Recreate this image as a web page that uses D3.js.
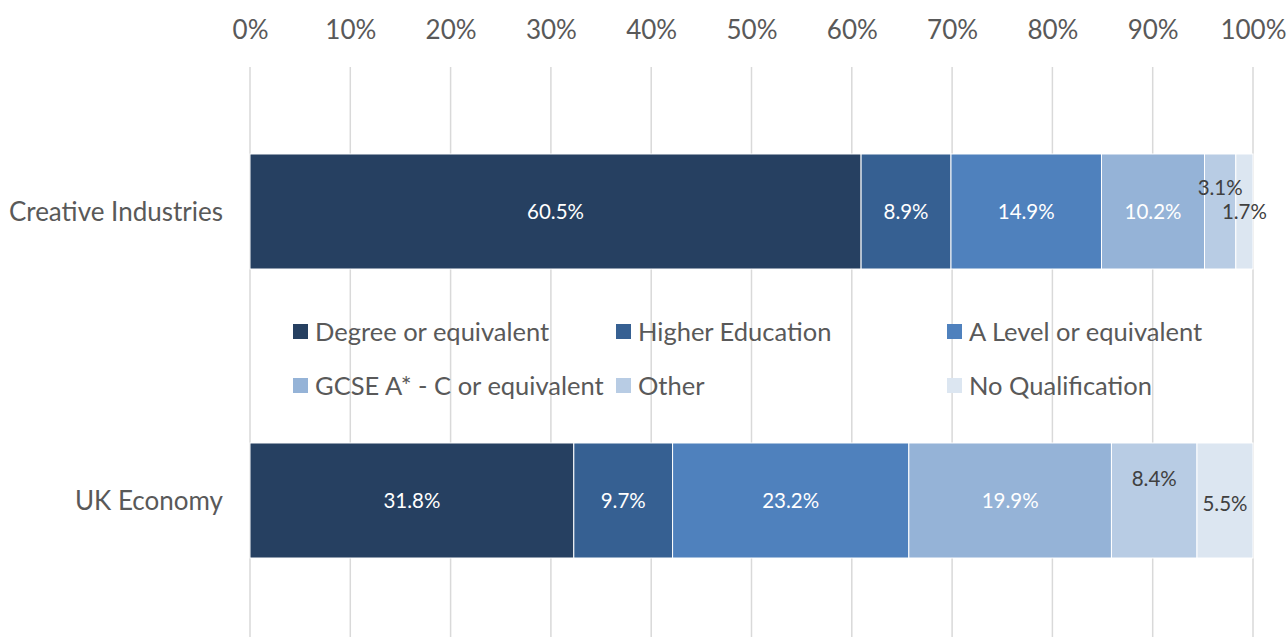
<!DOCTYPE html>
<html>
<head>
<meta charset="utf-8">
<script src="https://cdn.jsdelivr.net/npm/d3@7"></script>
<style>
  body { margin: 0; background: #fff; }
  svg { display: block; font-family: Lato, "Open Sans", sans-serif; }
</style>
</head>
<body>
<svg id="chart" width="1287" height="637"></svg>
<script>
// data
const categories = ["Creative Industries", "UK Economy"];
const seriesNames = ["Degree or equivalent", "Higher Education", "A Level or equivalent",
  "GCSE A* - C or equivalent", "Other", "No Qualification"];
const creativeValues = [60.5, 8.9, 14.9, 10.2, 3.1, 1.7];
const ukValues = [31.8, 9.7, 23.2, 19.9, 8.4, 5.5];
const tickValues = [0, 0.1, 0.2, 0.3, 0.4, 0.5, 0.6, 0.7, 0.8, 0.9, 1];

const colors = ["#264061", "#366092", "#4f81bd", "#95b3d7", "#b8cce4", "#dce6f1"];
const labelColors = ["#fff", "#fff", "#fff", "#fff", "#404040", "#404040"];
// manual label nudges (dy) like the original chart, keyed by category/series index
const labelNudge = { "0-4": -24, "1-4": -22, "1-5": 3 };

const width = 1287, height = 637;
const svg = d3.select("#chart");

const rows = [creativeValues, ukValues].map((vals, i) => {
  const r = { category: categories[i] };
  seriesNames.forEach((s, j) => r[s] = vals[j]);
  return r;
});

const stack = d3.stack().keys(seriesNames).offset(d3.stackOffsetExpand);
const series = stack(rows);

const x = d3.scaleLinear().domain([0, 1]).range([250, 1253]);
const y = d3.scaleBand().domain(categories).range([67, 645])
  .paddingInner(0.602).paddingOuter(0.301);

// gridlines
svg.append("g")
  .selectAll("line")
  .data(tickValues)
  .join("line")
  .attr("x1", d => x(d)).attr("x2", d => x(d))
  .attr("y1", 67).attr("y2", height)
  .attr("stroke", "#d9d9d9")
  .attr("stroke-width", 1.5);

// top axis labels
const xAxis = d3.axisTop(x).tickValues(tickValues).tickFormat(d3.format(".0%")).tickSize(0).tickPadding(0);
svg.append("g")
  .attr("transform", "translate(0,39)")
  .call(xAxis)
  .call(g => g.select(".domain").remove())
  .call(g => g.selectAll("text")
    .attr("dy", 0)
    .attr("fill", "#595959")
    .style("font-family", "Lato, sans-serif")
    .style("font-size", "26px"));

// category labels
svg.append("g")
  .selectAll("text")
  .data(categories)
  .join("text")
  .attr("x", 223)
  .attr("y", d => y(d) + y.bandwidth() / 2)
  .attr("dy", "0.35em")
  .attr("text-anchor", "end")
  .attr("fill", "#595959")
  .style("font-size", "26px")
  .text(d => d);

// bars
const layer = svg.append("g")
  .selectAll("g")
  .data(series)
  .join("g")
  .attr("fill", (d, i) => colors[i]);

layer.selectAll("rect")
  .data(d => d)
  .join("rect")
  .attr("x", d => x(d[0]))
  .attr("y", d => y(d.data.category))
  .attr("width", d => x(d[1]) - x(d[0]))
  .attr("height", y.bandwidth())
  .attr("stroke", "#fff")
  .attr("stroke-width", 1);

// data labels
series.forEach((s, si) => {
  svg.append("g")
    .selectAll("text")
    .data(s)
    .join("text")
    .attr("x", d => (x(d[0]) + x(d[1])) / 2)
    .attr("y", (d, ci) => y(d.data.category) + y.bandwidth() / 2 + (labelNudge[ci + "-" + si] || 0))
    .attr("dy", "0.35em")
    .attr("text-anchor", "middle")
    .attr("fill", labelColors[si])
    .style("font-size", "20.5px")
    .text(d => d3.format(".1f")(d.data[s.key]) + "%");
});

// legend
const legendPos = [[293, 332], [616, 332], [947, 332], [293, 386], [616, 386], [947, 386]];
const legend = svg.append("g")
  .selectAll("g")
  .data(seriesNames)
  .join("g")
  .attr("transform", (d, i) => `translate(${legendPos[i][0]},${legendPos[i][1]})`);

legend.append("rect")
  .attr("x", 0).attr("y", -8)
  .attr("width", 15).attr("height", 15)
  .attr("fill", (d, i) => colors[i]);

legend.append("text")
  .attr("x", 22)
  .attr("y", 0)
  .attr("dy", "0.35em")
  .attr("fill", "#595959")
  .style("font-size", "25.5px")
  .text(d => d);
</script>
</body>
</html>
